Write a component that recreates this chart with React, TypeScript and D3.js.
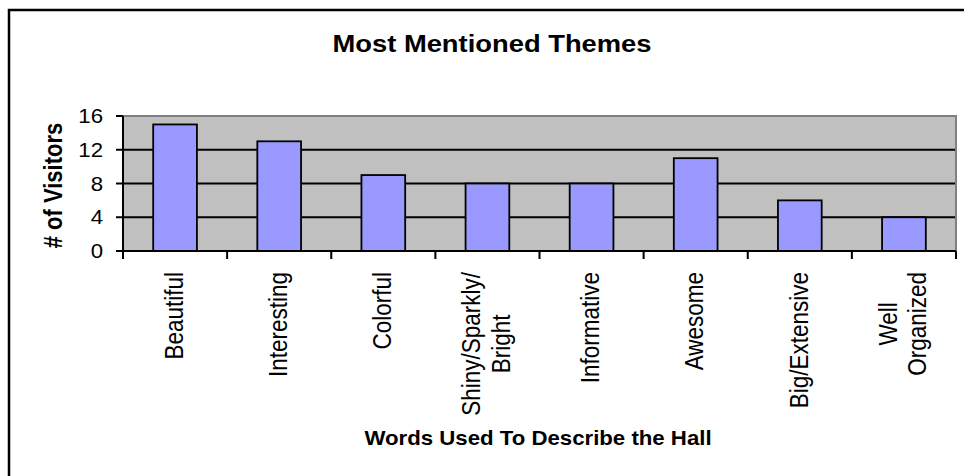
import React, { useEffect, useRef } from "react";
import * as d3 from "d3";

// Chart data
const categories = [
  "Beautiful",
  "Interesting",
  "Colorful",
  "Shiny/Sparkly/\nBright",
  "Informative",
  "Awesome",
  "Big/Extensive",
  "Well\nOrganized",
];
const visitors = [15, 13, 9, 8, 8, 11, 6, 4];
const yTicks = [0, 4, 8, 12, 16];
const chartTitle = "Most Mentioned Themes";
const xTitle = "Words Used To Describe the Hall";
const yTitle = "# of Visitors";

const W = 964;
const H = 476;
const plot = { left: 123, right: 956, top: 116, bottom: 251 };
const SX = 1.14; // text is drawn slightly wide
const FONT = "Arial, 'Liberation Sans', sans-serif";

export default function App() {
  const ref = useRef<SVGSVGElement>(null);

  useEffect(() => {
    const svg = d3.select(ref.current);
    svg.selectAll("*").remove();

    // chart frame
    svg
      .append("rect")
      .attr("x", 9)
      .attr("y", 10)
      .attr("width", 1000)
      .attr("height", 1000)
      .attr("fill", "#fff")
      .attr("stroke", "#000")
      .attr("stroke-width", 2.5);

    const x = d3
      .scaleBand<string>()
      .domain(categories)
      .range([plot.left, plot.right])
      .padding(0);
    const y = d3.scaleLinear().domain([0, 16]).range([plot.bottom, plot.top]);
    const barW = x.bandwidth() * 0.42;

    // plot area background
    svg
      .append("rect")
      .attr("x", plot.left)
      .attr("y", plot.top)
      .attr("width", plot.right - plot.left)
      .attr("height", plot.bottom - plot.top)
      .attr("fill", "#C0C0C0");

    // gridlines
    svg
      .append("g")
      .selectAll("line")
      .data(yTicks.filter((t) => t > 0 && t < 16))
      .join("line")
      .attr("x1", plot.left)
      .attr("x2", plot.right)
      .attr("y1", (d) => y(d))
      .attr("y2", (d) => y(d))
      .attr("stroke", "#000")
      .attr("stroke-width", 1.8);

    // bars
    svg
      .append("g")
      .selectAll("rect")
      .data(categories)
      .join("rect")
      .attr("x", (d) => (x(d) as number) + x.bandwidth() / 2 - barW / 2)
      .attr("y", (_, i) => y(visitors[i]))
      .attr("width", barW)
      .attr("height", (_, i) => y(0) - y(visitors[i]))
      .attr("fill", "#9999FF")
      .attr("stroke", "#000")
      .attr("stroke-width", 1.8);

    // plot area border (top and right)
    svg
      .append("path")
      .attr(
        "d",
        `M${plot.left},${plot.top}H${plot.right}V${plot.bottom}`
      )
      .attr("fill", "none")
      .attr("stroke", "#808080")
      .attr("stroke-width", 2);

    // value axis
    svg
      .append("line")
      .attr("x1", plot.left)
      .attr("x2", plot.left)
      .attr("y1", plot.top)
      .attr("y2", plot.bottom + 8)
      .attr("stroke", "#000")
      .attr("stroke-width", 2);
    svg
      .append("g")
      .selectAll("line")
      .data(yTicks)
      .join("line")
      .attr("x1", plot.left - 7)
      .attr("x2", plot.left)
      .attr("y1", (d) => y(d))
      .attr("y2", (d) => y(d))
      .attr("stroke", "#000")
      .attr("stroke-width", 2);
    svg
      .append("g")
      .selectAll("text")
      .data(yTicks)
      .join("text")
      .attr("transform", (d) => `translate(103,${y(d)}) scale(${SX},1)`)
      .attr("dy", "0.36em")
      .attr("text-anchor", "end")
      .attr("font-family", FONT)
      .attr("font-size", 19.5)
      .attr("fill", "#000")
      .text((d) => d);

    // category axis
    svg
      .append("line")
      .attr("x1", plot.left)
      .attr("x2", plot.right)
      .attr("y1", plot.bottom)
      .attr("y2", plot.bottom)
      .attr("stroke", "#000")
      .attr("stroke-width", 2);
    const bounds = categories.map((c) => x(c) as number).concat([plot.right]);
    svg
      .append("g")
      .selectAll("line")
      .data(bounds)
      .join("line")
      .attr("x1", (d) => d)
      .attr("x2", (d) => d)
      .attr("y1", plot.bottom)
      .attr("y2", plot.bottom + 8)
      .attr("stroke", "#000")
      .attr("stroke-width", 2);

    // category labels, rotated, top-aligned under the axis
    const labelTop = 272;
    const labelSize = 22.5;
    const lineStep = 1.15;
    categories.forEach((c) => {
      const lines = c.split("\n");
      const cx = (x(c) as number) + x.bandwidth() / 2;
      const g = svg
        .append("g")
        .attr("transform", `translate(${cx},${labelTop}) scale(${SX},1) rotate(-90)`);
      const texts = g
        .selectAll("text")
        .data(lines)
        .join("text")
        .attr("y", (_, i) => (i - (lines.length - 1) / 2) * lineStep * labelSize)
        .attr("dy", "0.3em")
        .attr("text-anchor", "middle")
        .attr("font-family", FONT)
        .attr("font-size", labelSize)
        .attr("fill", "#000")
        .text((d) => d);
      let maxLen = 0;
      texts.each(function () {
        maxLen = Math.max(maxLen, (this as SVGTextElement).getComputedTextLength());
      });
      texts.attr("x", -maxLen / 2);
    });

    // titles
    svg
      .append("text")
      .attr("transform", `translate(492,52) scale(${SX},1)`)
      .attr("text-anchor", "middle")
      .attr("font-family", FONT)
      .attr("font-weight", "bold")
      .attr("font-size", 24)
      .attr("fill", "#000")
      .text(chartTitle);

    svg
      .append("text")
      .attr("transform", `translate(538,445) scale(${SX},1)`)
      .attr("text-anchor", "middle")
      .attr("font-family", FONT)
      .attr("font-weight", "bold")
      .attr("font-size", 19.5)
      .attr("fill", "#000")
      .text(xTitle);

    svg
      .append("text")
      .attr(
        "transform",
        `translate(62,${(plot.top + plot.bottom) / 2 + 2}) scale(${SX},1) rotate(-90)`
      )
      .attr("text-anchor", "middle")
      .attr("font-family", FONT)
      .attr("font-weight", "bold")
      .attr("font-size", 22)
      .attr("fill", "#000")
      .text(yTitle);
  }, []);

  return (
    <svg
      ref={ref}
      width={W}
      height={H}
      style={{ position: "absolute", left: 0, top: 0, background: "#fff" }}
    />
  );
}
